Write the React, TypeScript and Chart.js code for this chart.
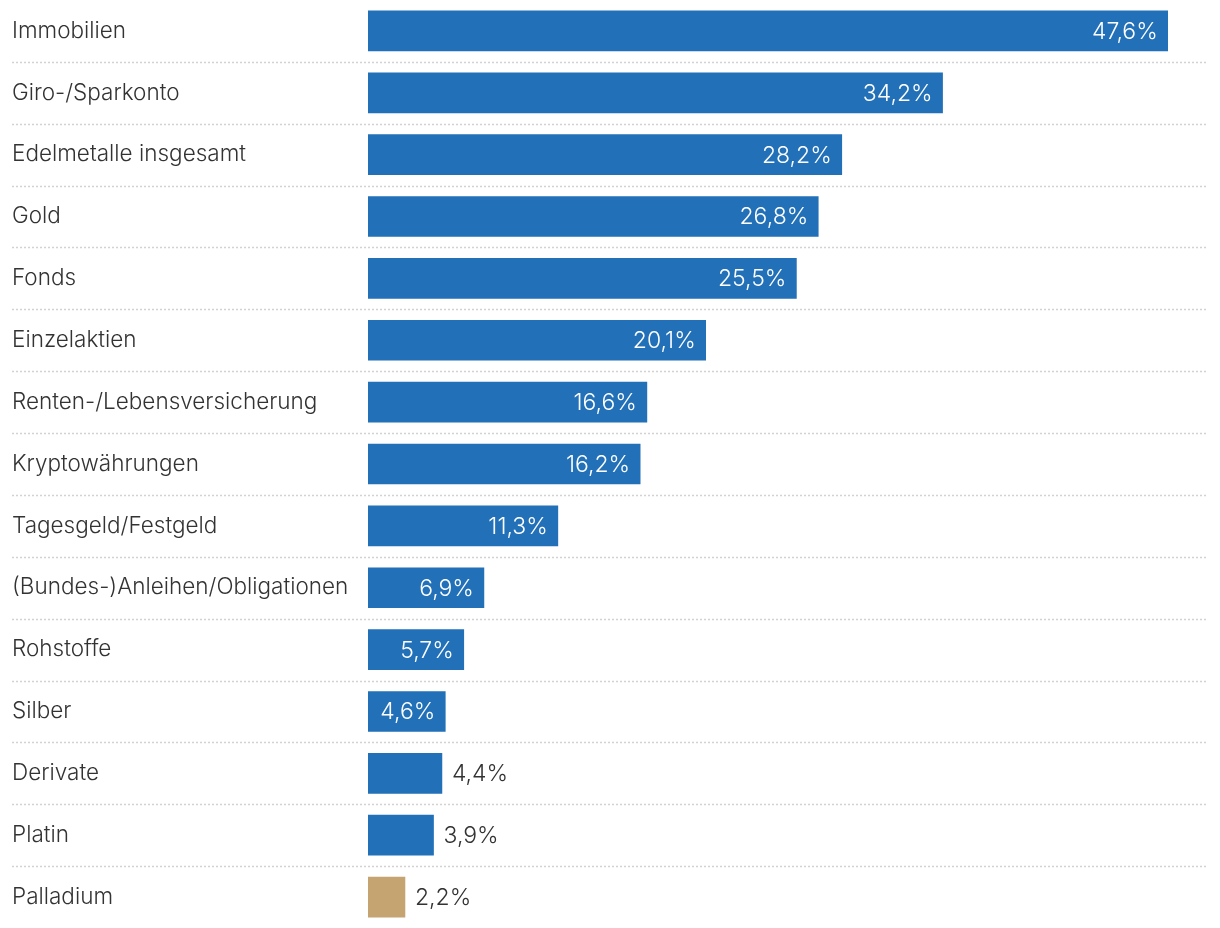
import React, { useEffect, useRef } from "react";
import { Chart, registerables } from "chart.js";

Chart.register(...registerables);

const categories = [
  "Immobilien",
  "Giro-/Sparkonto",
  "Edelmetalle insgesamt",
  "Gold",
  "Fonds",
  "Einzelaktien",
  "Renten-/Lebensversicherung",
  "Kryptowährungen",
  "Tagesgeld/Festgeld",
  "(Bundes-)Anleihen/Obligationen",
  "Rohstoffe",
  "Silber",
  "Derivate",
  "Platin",
  "Palladium",
];

const values = [47.6, 34.2, 28.2, 26.8, 25.5, 20.1, 16.6, 16.2, 11.3, 6.9, 5.7, 4.6, 4.4, 3.9, 2.2];

const highlighted = ["Palladium"];

const INSIDE_MIN = 4.5;

const BLUE = "#2170b8";
const GOLD = "#c5a472";
const TEXT = "#333333";
const FONT = "Inter";
const LABEL_SIZE = 22.5;
const VALUE_SIZE = 23;

const fmt = (v: number) => v.toFixed(1).replace(".", ",") + "%";

const separatorPlugin = {
  id: "separators",
  beforeDatasetsDraw(chart: any) {
    const { ctx } = chart;
    const y = chart.scales.y;
    const n = chart.data.labels.length;
    ctx.save();
    ctx.strokeStyle = "#d2d2d2";
    ctx.lineWidth = 1.5;
    ctx.setLineDash([2, 2]);
    for (let i = 0; i < n - 1; i++) {
      const p = (y.getPixelForValue(i) + y.getPixelForValue(i + 1)) / 2;
      const yy = Math.round(p) + 0.5;
      ctx.beginPath();
      ctx.moveTo(12, yy);
      ctx.lineTo(1208, yy);
      ctx.stroke();
    }
    ctx.restore();
  },
};

const valueLabelPlugin = {
  id: "valueLabels",
  afterDatasetsDraw(chart: any) {
    const { ctx } = chart;
    const meta = chart.getDatasetMeta(0);
    const data = chart.data.datasets[0].data as number[];
    ctx.save();
    ctx.font = `300 ${VALUE_SIZE}px ${FONT}`;
    ctx.textBaseline = "middle";
    meta.data.forEach((bar: any, i: number) => {
      const txt = fmt(data[i]);
      if (data[i] >= INSIDE_MIN) {
        ctx.fillStyle = "#ffffff";
        ctx.textAlign = "right";
        ctx.fillText(txt, bar.x - 10, bar.y + 1);
      } else {
        ctx.fillStyle = TEXT;
        ctx.textAlign = "left";
        ctx.fillText(txt, bar.x + 10, bar.y + 1);
      }
    });
    ctx.restore();
  },
};

export default function App() {
  const ref = useRef<HTMLCanvasElement | null>(null);
  useEffect(() => {
    if (!ref.current) return;
    const chart = new Chart(ref.current, {
      type: "bar",
      data: {
        labels: categories,
        datasets: [
          {
            data: values,
            backgroundColor: categories.map((c) => (highlighted.includes(c) ? GOLD : BLUE)),
            barThickness: 40,
            borderWidth: 0,
          },
        ],
      },
      options: {
        indexAxis: "y",
        responsive: false,
        animation: false,
        layout: { padding: { left: 12, right: 12, top: -1.5, bottom: -0.5 } },
        plugins: {
          legend: { display: false },
          tooltip: { enabled: false },
        },
        scales: {
          x: {
            display: false,
            min: 0,
            max: 50,
          },
          y: {
            afterFit(scale: any) {
              scale.width = 356;
              scale.paddingTop = 0;
              scale.paddingBottom = 0;
            },
            grid: { display: false, drawTicks: false },
            border: { display: false },
            ticks: {
              crossAlign: "far",
              padding: 0,
              color: TEXT,
              font: { family: FONT, size: LABEL_SIZE, weight: "300" as any },
              autoSkip: false,
            },
          },
        },
      },
      plugins: [separatorPlugin, valueLabelPlugin],
    });
    return () => chart.destroy();
  }, []);
  return (
    <div style={{ position: "absolute", left: 0, top: 0, width: 1220, height: 928, background: "#fff" }}>
      <canvas ref={ref} width={1220} height={928} style={{ display: "block" }} />
    </div>
  );
}
